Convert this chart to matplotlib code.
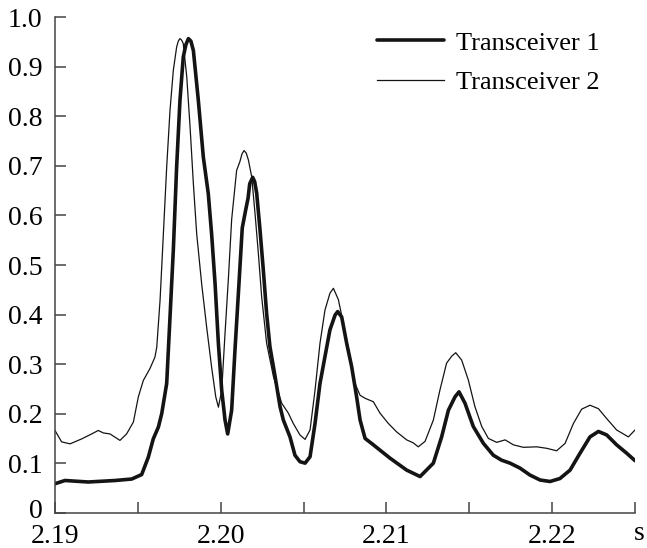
import numpy as np
import matplotlib.pyplot as plt
import matplotlib.transforms as mtransforms
from matplotlib.ticker import FixedLocator

# Transceiver 1 (thick trace)
t1 = [2.19000, 2.19060, 2.19201, 2.19362, 2.19463, 2.19523, 2.19563, 2.19593,
      2.19624, 2.19644, 2.19674, 2.19694, 2.19714, 2.19734, 2.19754, 2.19774,
      2.19790, 2.19805, 2.19820, 2.19835, 2.19865, 2.19895, 2.19925, 2.19945,
      2.19966, 2.19986, 2.20006, 2.20026, 2.20042, 2.20066, 2.20086, 2.20110,
      2.20130, 2.20150, 2.20165, 2.20175, 2.20193, 2.20205, 2.20217, 2.20237,
      2.20257, 2.20277, 2.20297, 2.20328, 2.20358, 2.20378, 2.20418, 2.20448,
      2.20478, 2.20509, 2.20539, 2.20569, 2.20599, 2.20629, 2.20659, 2.20690,
      2.20706, 2.20730, 2.20760, 2.20790, 2.20820, 2.20841, 2.20871, 2.20921,
      2.21022, 2.21122, 2.21203, 2.21283, 2.21333, 2.21374, 2.21414, 2.21438,
      2.21474, 2.21524, 2.21585, 2.21645, 2.21695, 2.21746, 2.21806, 2.21866,
      2.21927, 2.21987, 2.22047, 2.22108, 2.22168, 2.22228, 2.22279, 2.22329,
      2.22389, 2.22450, 2.22500]
v1 = [0.0585, 0.065, 0.062, 0.065, 0.068, 0.077, 0.112, 0.149,
      0.173, 0.200, 0.261, 0.395, 0.530, 0.698, 0.832, 0.920,
      0.945, 0.957, 0.952, 0.933, 0.832, 0.718, 0.644, 0.563,
      0.462, 0.341, 0.247, 0.187, 0.159, 0.207, 0.328, 0.462,
      0.575, 0.610, 0.635, 0.664, 0.677, 0.668, 0.645, 0.571,
      0.490, 0.402, 0.335, 0.275, 0.214, 0.187, 0.153, 0.116,
      0.103, 0.100, 0.113, 0.180, 0.261, 0.315, 0.369, 0.399,
      0.406, 0.395, 0.342, 0.295, 0.234, 0.187, 0.150, 0.137,
      0.110, 0.086, 0.073, 0.100, 0.153, 0.207, 0.234, 0.244,
      0.221, 0.174, 0.140, 0.116, 0.106, 0.100, 0.090, 0.076,
      0.066, 0.063, 0.069, 0.086, 0.120, 0.153, 0.164, 0.157,
      0.137, 0.120, 0.105]

# Transceiver 2 (thin trace)
t2 = [2.19000, 2.19040, 2.19091, 2.19161, 2.19221, 2.19261, 2.19292, 2.19332,
      2.19392, 2.19432, 2.19473, 2.19503, 2.19533, 2.19573, 2.19603, 2.19614,
      2.19634, 2.19654, 2.19674, 2.19694, 2.19714, 2.19734, 2.19744, 2.19754,
      2.19764, 2.19774, 2.19795, 2.19815, 2.19835, 2.19855, 2.19885, 2.19915,
      2.19945, 2.19970, 2.19986, 2.20006, 2.20026, 2.20046, 2.20066, 2.20096,
      2.20116, 2.20128, 2.20141, 2.20154, 2.20167, 2.20187, 2.20207, 2.20227,
      2.20247, 2.20277, 2.20318, 2.20368, 2.20408, 2.20438, 2.20478, 2.20509,
      2.20539, 2.20569, 2.20599, 2.20629, 2.20659, 2.20680, 2.20710, 2.20740,
      2.20780, 2.20810, 2.20841, 2.20871, 2.20921, 2.20961, 2.21012, 2.21062,
      2.21122, 2.21162, 2.21192, 2.21233, 2.21283, 2.21323, 2.21363, 2.21394,
      2.21418, 2.21454, 2.21494, 2.21534, 2.21575, 2.21615, 2.21665, 2.21716,
      2.21766, 2.21826, 2.21907, 2.21967, 2.22027, 2.22078, 2.22128, 2.22178,
      2.22228, 2.22279, 2.22329, 2.22389, 2.22460, 2.22500]
v2 = [0.166, 0.143, 0.139, 0.149, 0.159, 0.166, 0.161, 0.159,
      0.146, 0.159, 0.183, 0.234, 0.267, 0.291, 0.314, 0.334,
      0.429, 0.563, 0.698, 0.812, 0.893, 0.940, 0.952, 0.957,
      0.954, 0.947, 0.880, 0.779, 0.664, 0.563, 0.462, 0.375,
      0.294, 0.234, 0.213, 0.247, 0.362, 0.471, 0.592, 0.691,
      0.709, 0.724, 0.731, 0.726, 0.712, 0.678, 0.604, 0.524,
      0.436, 0.342, 0.275, 0.221, 0.201, 0.180, 0.157, 0.148,
      0.167, 0.247, 0.342, 0.409, 0.443, 0.453, 0.430, 0.382,
      0.315, 0.261, 0.237, 0.231, 0.224, 0.201, 0.180, 0.163,
      0.147, 0.141, 0.133, 0.144, 0.187, 0.248, 0.302, 0.316,
      0.323, 0.308, 0.268, 0.214, 0.174, 0.150, 0.142, 0.147,
      0.137, 0.132, 0.133, 0.130, 0.125, 0.140, 0.180, 0.209,
      0.217, 0.210, 0.190, 0.167, 0.153, 0.167]

x_ticks = [2.19, 2.20, 2.21, 2.22]
x_labels = ['2.19', '2.20', '2.21', '2.22']
y_ticks = [0, 0.1, 0.2, 0.3, 0.4, 0.5, 0.6, 0.7, 0.8, 0.9, 1.0]
y_labels = ['0', '0.1', '0.2', '0.3', '0.4', '0.5', '0.6', '0.7', '0.8', '0.9', '1.0']

plt.rcParams['font.family'] = ['Liberation Serif', 'DejaVu Serif']
plt.rcParams['font.size'] = 20

fig = plt.figure(figsize=(6.47, 5.48), dpi=100)
ax = fig.add_axes([0.085, 0.0644, 0.8965, 0.904])

ax.plot(t1, v1, color='#141414', lw=2.6, solid_joinstyle='round',
        solid_capstyle='round', label='Transceiver 1')
ax.plot(t2, v2, color='#141414', lw=0.9, solid_joinstyle='round',
        label='Transceiver 2')

ax.set_xlim(2.19, 2.225)
ax.set_ylim(0, 1.0)

ax.set_xticks(x_ticks)
ax.set_xticklabels(x_labels)
ax.xaxis.set_minor_locator(FixedLocator([2.195, 2.205, 2.215, 2.225]))
ax.set_yticks(y_ticks)
ax.set_yticklabels(y_labels)

for side in ['top', 'right']:
    ax.spines[side].set_visible(False)
for side in ['left', 'bottom']:
    ax.spines[side].set_color('#444444')
    ax.spines[side].set_linewidth(1.1)

ax.tick_params(axis='both', which='both', direction='in', length=8,
               width=1.1, color='#444444', labelcolor='black')
ax.tick_params(axis='y', pad=9)
ax.tick_params(axis='x', pad=8)

# lift the "0" a little so it clears the 2.19 label below it
zero_lbl = ax.get_yticklabels()[0]
zero_lbl.set_transform(zero_lbl.get_transform() +
                       mtransforms.ScaledTranslation(0, 3 / 72, fig.dpi_scale_trans))

# unit of the time axis, past the last tick
ax.text(1.007, -0.056, 's', transform=ax.transAxes, ha='center',
        va='baseline', fontsize=20)

ax.legend(loc='upper left', bbox_to_anchor=(0.555, 0.972), frameon=False,
          handlelength=2.55, handletextpad=0.45, borderpad=0,
          borderaxespad=0, labelspacing=0.62, fontsize=19)

fig.savefig('out.png', dpi=100)
